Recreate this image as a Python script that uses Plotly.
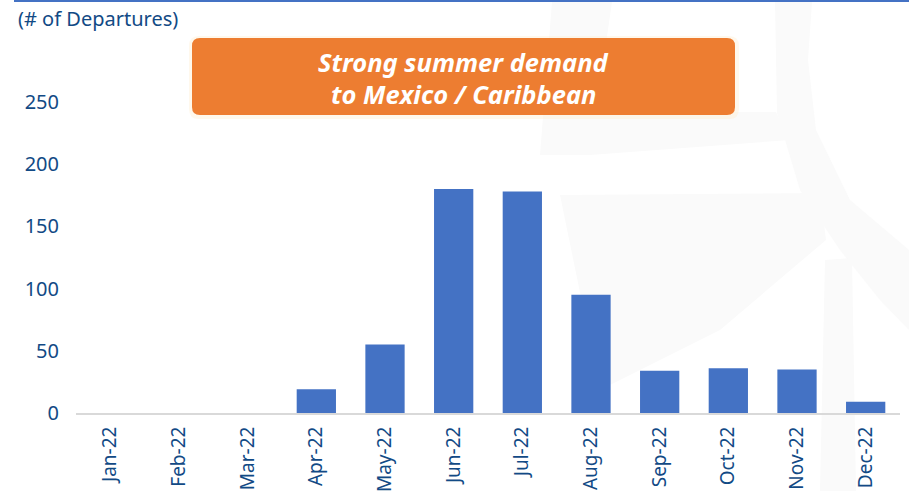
import plotly.graph_objects as go

months = ["Jan-22", "Feb-22", "Mar-22", "Apr-22", "May-22", "Jun-22",
          "Jul-22", "Aug-22", "Sep-22", "Oct-22", "Nov-22", "Dec-22"]
departures = [0, 0, 0, 19, 55, 180, 178, 95, 34, 36, 35, 9]
y_ticks = [0, 50, 100, 150, 200, 250]
unit_label = "(# of Departures)"
callout_lines = ["Strong summer demand", "to Mexico / Caribbean"]

W, H = 909, 491
ML, MR, MT, MB = 76, 9, 77, 78
PW = W - ML - MR
PH = H - MT - MB
YMAX = 270

TEXT = "#124A85"
BAR = "#4472C4"
ORANGE = "#ED7D31"
FONT = "Noto Sans"


def px_to_paper_x(px):
    return (px - ML) / PW


def px_to_paper_y(py):
    return (H - MB - py) / PH


def rounded_rect(x0, y0, x1, y1, r):
    X = px_to_paper_x
    Y = px_to_paper_y
    return (
        f"M {X(x0 + r)} {Y(y0)} L {X(x1 - r)} {Y(y0)} "
        f"Q {X(x1)} {Y(y0)} {X(x1)} {Y(y0 + r)} "
        f"L {X(x1)} {Y(y1 - r)} Q {X(x1)} {Y(y1)} {X(x1 - r)} {Y(y1)} "
        f"L {X(x0 + r)} {Y(y1)} Q {X(x0)} {Y(y1)} {X(x0)} {Y(y1 - r)} "
        f"L {X(x0)} {Y(y0 + r)} Q {X(x0)} {Y(y0)} {X(x0 + r)} {Y(y0)} Z"
    )


def poly(points):
    return "M " + " L ".join(f"{px_to_paper_x(x)} {px_to_paper_y(y)}" for x, y in points) + " Z"


fig = go.Figure()
fig.add_trace(go.Bar(
    x=months, y=departures,
    marker=dict(color=BAR, line=dict(width=0)),
    hoverinfo="x+y",
))

WM = "#FAFAFA"
shapes = [
    # faint background watermark
    dict(type="path", xref="paper", yref="paper", layer="below",
         path=poly([(552, 2), (612, 2), (596, 112), (776, 112), (790, 140), (590, 155), (540, 155)]),
         fillcolor=WM, line=dict(width=0)),
    dict(type="path", xref="paper", yref="paper", layer="below",
         path=poly([(775, 2), (812, 2), (808, 60), (816, 130), (850, 200), (909, 250), (909, 330),
                    (880, 300), (840, 250), (800, 190), (777, 113)]),
         fillcolor=WM, line=dict(width=0)),
    dict(type="path", xref="paper", yref="paper", layer="below",
         path=poly([(560, 195), (820, 193), (826, 240), (720, 330), (640, 370), (600, 390)]),
         fillcolor=WM, line=dict(width=0)),
    dict(type="path", xref="paper", yref="paper", layer="below",
         path=poly([(825, 260), (852, 258), (856, 491), (820, 491)]),
         fillcolor=WM, line=dict(width=0)),
    # top rule
    dict(type="line", xref="paper", yref="paper",
         x0=px_to_paper_x(14), x1=px_to_paper_x(909),
         y0=px_to_paper_y(1), y1=px_to_paper_y(1),
         line=dict(color="#4472C4", width=2)),
    # callout glow
    dict(type="path", xref="paper", yref="paper",
         path=rounded_rect(189, 36, 739, 119, 10),
         fillcolor="rgba(255,236,200,0.35)", line=dict(width=0), layer="above"),
    # callout box
    dict(type="path", xref="paper", yref="paper",
         path=rounded_rect(192, 38, 735, 115, 8),
         fillcolor=ORANGE, line=dict(width=0), layer="above"),
]

annotations = [
    dict(text=unit_label, xref="paper", yref="paper",
         x=px_to_paper_x(16), y=px_to_paper_y(19),
         xanchor="left", yanchor="middle", showarrow=False,
         font=dict(family=FONT, size=20, color=TEXT)),
    dict(text=f"<b><i>{callout_lines[0]}</i></b>", xref="paper", yref="paper",
         x=px_to_paper_x(463), y=px_to_paper_y(62),
         xanchor="center", yanchor="middle", showarrow=False,
         font=dict(family=FONT, size=25.5, color="white")),
    dict(text=f"<b><i>{callout_lines[1]}</i></b>", xref="paper", yref="paper",
         x=px_to_paper_x(463), y=px_to_paper_y(94),
         xanchor="center", yanchor="middle", showarrow=False,
         font=dict(family=FONT, size=25.5, color="white")),
]

fig.update_layout(
    width=W, height=H,
    margin=dict(l=ML, r=MR, t=MT, b=MB, pad=0, autoexpand=False),
    paper_bgcolor="white", plot_bgcolor="rgba(0,0,0,0)",
    bargap=0.428,
    showlegend=False,
    shapes=shapes,
    annotations=annotations,
    font=dict(family=FONT, color=TEXT),
)
fig.update_xaxes(
    type="category", tickangle=-90, automargin=False,
    tickfont=dict(family=FONT, size=19, color=TEXT),
    showline=True, linecolor="#D9D9D9", linewidth=2,
    showgrid=False, ticks="", ticklabelstandoff=4,
    zeroline=False,
)
fig.update_yaxes(
    range=[0, YMAX], tickvals=y_ticks, automargin=False,
    tickfont=dict(family=FONT, size=20, color=TEXT),
    showgrid=False, zeroline=False, showline=False,
    ticks="", ticklabelstandoff=16,
)

fig.write_html(
    "out.html",
    config={"displayModeBar": False},
    post_script="document.body.style.margin='0';document.body.style.overflow='hidden';",
)
